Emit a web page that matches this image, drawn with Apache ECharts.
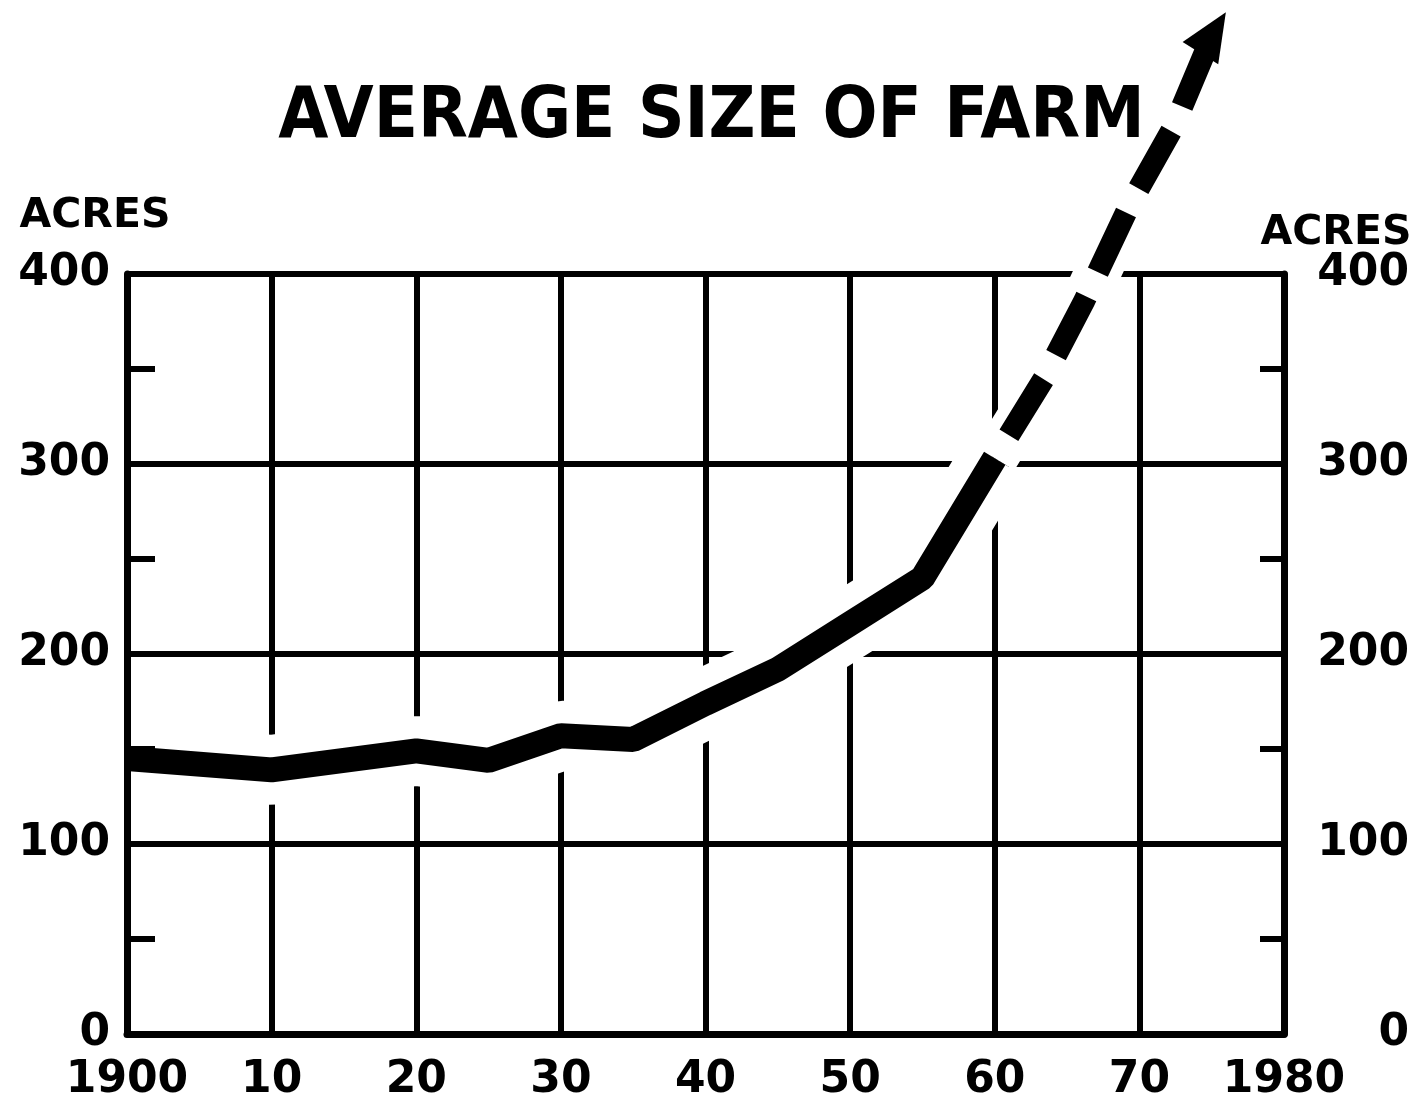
<!DOCTYPE html>
<html>
<head>
<meta charset="utf-8">
<title>Average size of farm</title>
<script src="https://cdn.jsdelivr.net/npm/echarts@6.0.0/dist/echarts.min.js"></script>
<style>
  html, body { margin: 0; padding: 0; background: #fff; }
  #chart { width: 1423px; height: 1112px; }
</style>
</head>
<body>
<div id="chart"></div>
<script>
// census years and average acres
const years = [1900, 1910, 1920, 1925, 1930, 1935, 1940, 1945, 1950, 1955, 1960];
const acres = [145, 139, 149, 144, 157, 155, 174, 192, 216, 240, 303];

// dashed projection, last point is where the arrow head sits
const projYears = [1960, 1963.4, 1966.2, 1969.3, 1972.4, 1975.1];
const projAcres = [303, 345, 386, 436, 478, 527];

const yTicks = [0, 100, 200, 300, 400];
const xTicks = [1900, 1910, 1920, 1930, 1940, 1950, 1960, 1970, 1980];

const FONT = '"DejaVu Sans", Roboto, sans-serif';

const solidPts = years.map((y, i) => [y, acres[i]]);
const projPts = projYears.map((y, i) => [y, projAcres[i]]);
const projData = projPts.map((p, i) => {
  if (i < projPts.length - 1) return p;
  return {
    value: p,
    symbol: 'triangle',
    symbolSize: [42, 48],
    symbolRotate: -32,
    itemStyle: { color: '#000' }
  };
});

const chart = echarts.init(document.getElementById('chart'));

const yLabel = {
  color: '#000',
  fontFamily: FONT,
  fontWeight: 'bold',
  fontSize: 44
};

chart.setOption({
  animation: false,
  backgroundColor: '#fff',
  title: {
    text: 'AVERAGE SIZE OF FARM',
    left: 'center',
    top: 82,
    padding: 0,
    textStyle: {
      color: '#000',
      fontFamily: '"DejaVu Sans Condensed", "DejaVu Sans", sans-serif',
      fontWeight: 'bold',
      fontSize: 72
    }
  },
  graphic: [
    {
      type: 'text',
      x: 95,
      y: 216,
      style: {
        text: 'ACRES',
        fill: '#000',
        font: 'bold 41px ' + FONT,
        align: 'center',
        verticalAlign: 'middle'
      }
    },
    {
      type: 'text',
      x: 1336,
      y: 233,
      style: {
        text: 'ACRES',
        fill: '#000',
        font: 'bold 41px ' + FONT,
        align: 'center',
        verticalAlign: 'middle'
      }
    }
  ],
  grid: {
    left: 127,
    right: 139,
    top: 274,
    bottom: 78,
    outerBoundsMode: 'none'
  },
  xAxis: {
    type: 'value',
    min: xTicks[0],
    max: xTicks[xTicks.length - 1],
    interval: 10,
    axisLine: { show: true, lineStyle: { color: '#000', width: 7 } },
    axisTick: { show: false },
    axisLabel: {
      color: '#000',
      fontFamily: FONT,
      fontWeight: 'bold',
      fontSize: 44,
      margin: 25,
      formatter: v => (v === 1900 || v === 1980) ? String(v) : String(v).slice(2)
    },
    splitLine: { show: true, lineStyle: { color: '#000', width: 6 } }
  },
  yAxis: [
    {
      type: 'value',
      position: 'left',
      min: yTicks[0],
      max: yTicks[yTicks.length - 1],
      interval: 100,
      z: 5,
      axisLine: { show: true, lineStyle: { color: '#000', width: 7 } },
      axisTick: { show: false, inside: true },
      minorTick: { show: true, splitNumber: 2, length: 28, lineStyle: { color: '#000', width: 6 } },
      axisLabel: Object.assign({ margin: 17 }, yLabel),
      splitLine: { show: false }
    },
    {
      type: 'value',
      position: 'right',
      min: yTicks[0],
      max: yTicks[yTicks.length - 1],
      interval: 100,
      axisLine: { show: true, lineStyle: { color: '#000', width: 7 } },
      axisTick: { show: false, inside: true },
      minorTick: { show: true, splitNumber: 2, length: 24, lineStyle: { color: '#000', width: 6 } },
      axisLabel: Object.assign({ margin: 125, align: 'right' }, yLabel),
      splitLine: { show: true, lineStyle: { color: '#000', width: 6 } }
    }
  ],
  series: [
    // white bands that break the grid lines where the curve passes
    {
      type: 'line',
      data: solidPts,
      symbol: 'none',
      clip: false,
      silent: true,
      z: 1,
      lineStyle: { color: '#fff', width: 70 }
    },
    {
      type: 'line',
      data: projPts,
      symbol: 'none',
      clip: false,
      silent: true,
      z: 1,
      lineStyle: { color: '#fff', width: 46 }
    },
    {
      name: 'Average size of farm',
      type: 'line',
      data: solidPts,
      symbol: 'none',
      clip: false,
      z: 3,
      lineStyle: { color: '#000', width: 25 }
    },
    {
      name: 'Projection',
      type: 'line',
      data: projData,
      symbol: 'none',
      showSymbol: true,
      clip: false,
      z: 3,
      lineStyle: { color: '#000', width: 22, type: [66, 27], dashOffset: 66 }
    }
  ]
});
</script>
</body>
</html>
